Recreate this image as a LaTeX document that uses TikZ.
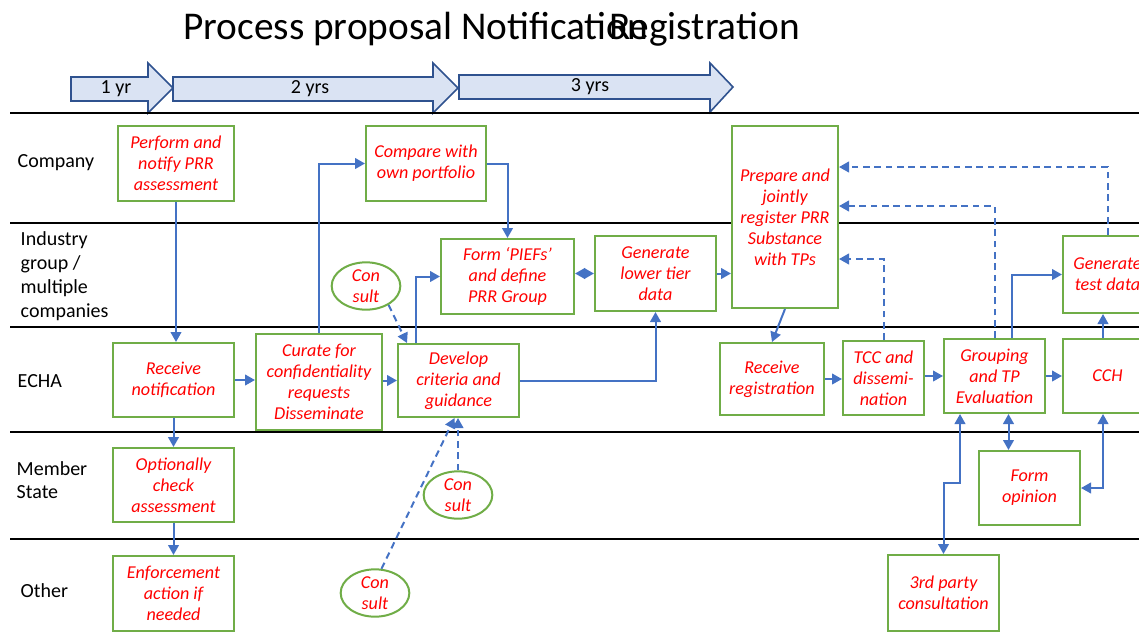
\documentclass[tikz,border=0pt]{standalone}
\usepackage{fontspec}
\setmainfont{Carlito}
\usetikzlibrary{arrows.meta,calc,shapes.geometric}
\definecolor{connblue}{HTML}{4472C4}
\definecolor{boxgreen}{HTML}{70AD47}
\definecolor{txtred}{HTML}{FF0000}
\definecolor{arrfill}{HTML}{DAE3F3}
\definecolor{arrline}{HTML}{2F528F}
\begin{document}
\begin{tikzpicture}[x=0.75pt,y=-0.75pt,
 boxfont/.style={font=\itshape\fontsize{13.6}{15.75}\selectfont},
 box/.style={draw=boxgreen,fill=white,line width=1.5pt,inner sep=0pt,align=center,text=txtred,boxfont},
 bsz/.style 2 args={minimum width=#1*0.75pt,minimum height=#2*0.75pt},
 consult/.style={ellipse,draw=boxgreen,fill=white,line width=1.5pt,inner sep=0pt,align=center,text=txtred,boxfont,minimum width=51.5pt,minimum height=35.5pt},
 conn/.style={draw=connblue,line width=1.5pt,-{Triangle[length=7.5pt,width=8pt]}},
 both/.style={draw=connblue,line width=1.5pt,{Triangle[length=7.5pt,width=8pt]}-{Triangle[length=7.5pt,width=8pt]}},
 dconn/.style={conn,dash pattern=on 5pt off 3.5pt},
 lane/.style={line width=1.5pt,black},
 lanelabel/.style={anchor=west,align=left,font=\fontsize{15}{18}\selectfont},
 yrarrow/.style={draw=arrline,fill=arrfill,line width=1.2pt},
 yrtext/.style={font=\fontsize{15}{18}\selectfont},
 ]
\useasboundingbox (0,0) rectangle (1139,637);
\clip (0,0) rectangle (1139,637);

% title
\node[anchor=base west,inner sep=0pt,font=\fontsize{29.5}{34}\selectfont] (t1) at (183,39) {Process proposal Notification};
\node[anchor=base east,inner sep=0pt,font=\fontsize{29.5}{34}\selectfont] (t2) at (800,39) {Registration};

% year arrows
\draw[yrarrow] (71,77) -- (148,77) -- (148,63) -- (173,88) -- (148,113) -- (148,101) -- (71,101) -- cycle;
\draw[yrarrow] (173,77) -- (433,77) -- (433,63) -- (458,88) -- (433,113) -- (433,101) -- (173,101) -- cycle;
\draw[yrarrow] (459,75) -- (710,75) -- (710,63) -- (733,87) -- (710,112) -- (710,99) -- (459,99) -- cycle;
\node[yrtext] (y1) at (116,89) {1 yr};
\node[yrtext] (y2) at (310,89) {2 yrs};
\node[yrtext] (y3) at (590,87) {3 yrs};

% lanes
\foreach \yy in {113,223,327,432,539} {\draw[lane] (10,\yy) -- (1139,\yy);}
\node[lanelabel] (lcomp) at (13,163) {Company};
\node[lanelabel] (lind) at (16,276) {Industry\\group /\\multiple\\companies};
\node[lanelabel,font=\fontsize{15}{17.25}\selectfont] (lms) at (12,480) {Member\\State};
\node[lanelabel] (lecha) at (13,381) {ECHA};
\node[lanelabel] (loth) at (16,591) {Other};

% boxes (centre, size in px)
\node[box,bsz={116}{75}] (perform) at (176,163.5) {Perform and\\notify PRR\\assessment};
\node[box,bsz={120}{75}] (compare) at (426,163.5) {Compare with\\own portfolio};
\node[box,bsz={133}{75}] (piefs) at (507.5,276.5) {Form ‘PIEFs’\\and define\\PRR Group};
\node[box,bsz={121}{75}] (lower) at (655.5,273.5) {Generate\\lower tier\\data};
\node[box,bsz={106}{182}] (prepare) at (785,217) {Prepare and\\jointly\\register PRR\\Substance\\with TPs};
\node[box,bsz={89}{77}] (testdata) at (1107.5,274.5) {Generate\\test data};
\node[box,bsz={121}{74}] (recnot) at (173.5,380) {Receive\\notification};
\node[box,bsz={126}{96}] (curate) at (319,382) {Curate for\\confidentiality\\requests\\Disseminate};
\node[box,bsz={121}{73}] (develop) at (458.5,380.5) {Develop\\criteria and\\guidance};
\node[box,bsz={104}{72}] (recreg) at (772,379) {Receive\\registration};
\node[box,bsz={81}{74}] (tcc) at (883.5,378) {TCC and\\dissemi-\\nation};
\node[box,bsz={101}{74}] (grouping) at (994.5,376) {Grouping\\and TP\\Evaluation};
\node[box,bsz={89}{74}] (cch) at (1107.5,376) {CCH};
\node[box,bsz={121}{74}] (optional) at (173.5,485) {Optionally\\check\\assessment};
\node[box,bsz={121}{75}] (enforce) at (173.5,593.5) {Enforcement\\action if\\needed};
\node[box,bsz={101}{74}] (opinion) at (1029.5,488) {Form\\opinion};
\node[box,bsz={111}{76}] (third) at (943.5,593) {3rd party\\consultation};

\node[consult] (c1) at (366,286) {Con\\sult};
\node[consult] (c2) at (458,495) {Con\\sult};
\node[consult] (c3) at (375,593) {Con\\sult};

% connectors
\draw[conn] (perform.south) -- (perform.south |- recnot.north);
\draw[conn] (recnot.east) -- (recnot.east -| curate.west);
\draw[conn] (curate.north) |- (compare.west);
\draw[conn] (compare.east) -| (piefs.north);
\draw[conn] (develop.west -| curate.east) -- (develop.west);
\draw[conn] ($(develop.north west)+(19,0)$) |- (piefs.west);
\draw[both] (lower.west -| piefs.east) -- (lower.west);
\draw[conn] (develop.east) -| (lower.south);
\draw[conn] (lower.east) -- (lower.east -| prepare.west);
\draw[conn] (prepare.south) -- (recreg.north);
\draw[conn] (recreg.east) -- (recreg.east -| tcc.west);
\draw[conn] (grouping.west -| tcc.east) -- (grouping.west);
\draw[conn] (grouping.east) -- (grouping.east -| cch.west);
\coordinate (cchx) at ($(cch.south west)+(41,0)$);
\draw[conn] (cchx |- cch.north) -- (cchx |- testdata.south);
\draw[conn] ($(grouping.north)+(17.5,0)$) |- (testdata.west);
\draw[dconn] (tcc.north) |- ($(prepare.north east)+(0,134)$);
\draw[dconn] (grouping.north) |- ($(prepare.north east)+(0,81)$);
\draw[dconn] (testdata.north) |- ($(prepare.north east)+(0,42)$);
\draw[dconn] (c1.-40) -- ($(develop.north west)+(10,0)$);
\draw[dconn] (c2.north) -- (c2.north |- develop.south);
\draw[dconn] (c3.75) -- ($(develop.south)+(-4,0)$);
\draw[conn] (recnot.south) -- (optional.north);
\draw[conn] (optional.south) -- (enforce.north);
\draw[both] (third.north) -- ++(0,-71) -| ($(grouping.south west)+(17,0)$);
\coordinate (g1) at ($(grouping.south)+(14,0)$);
\draw[both] (g1) -- (g1 |- opinion.north);
\draw[both] (cchx) |- (opinion.east);
\end{tikzpicture}
\end{document}
